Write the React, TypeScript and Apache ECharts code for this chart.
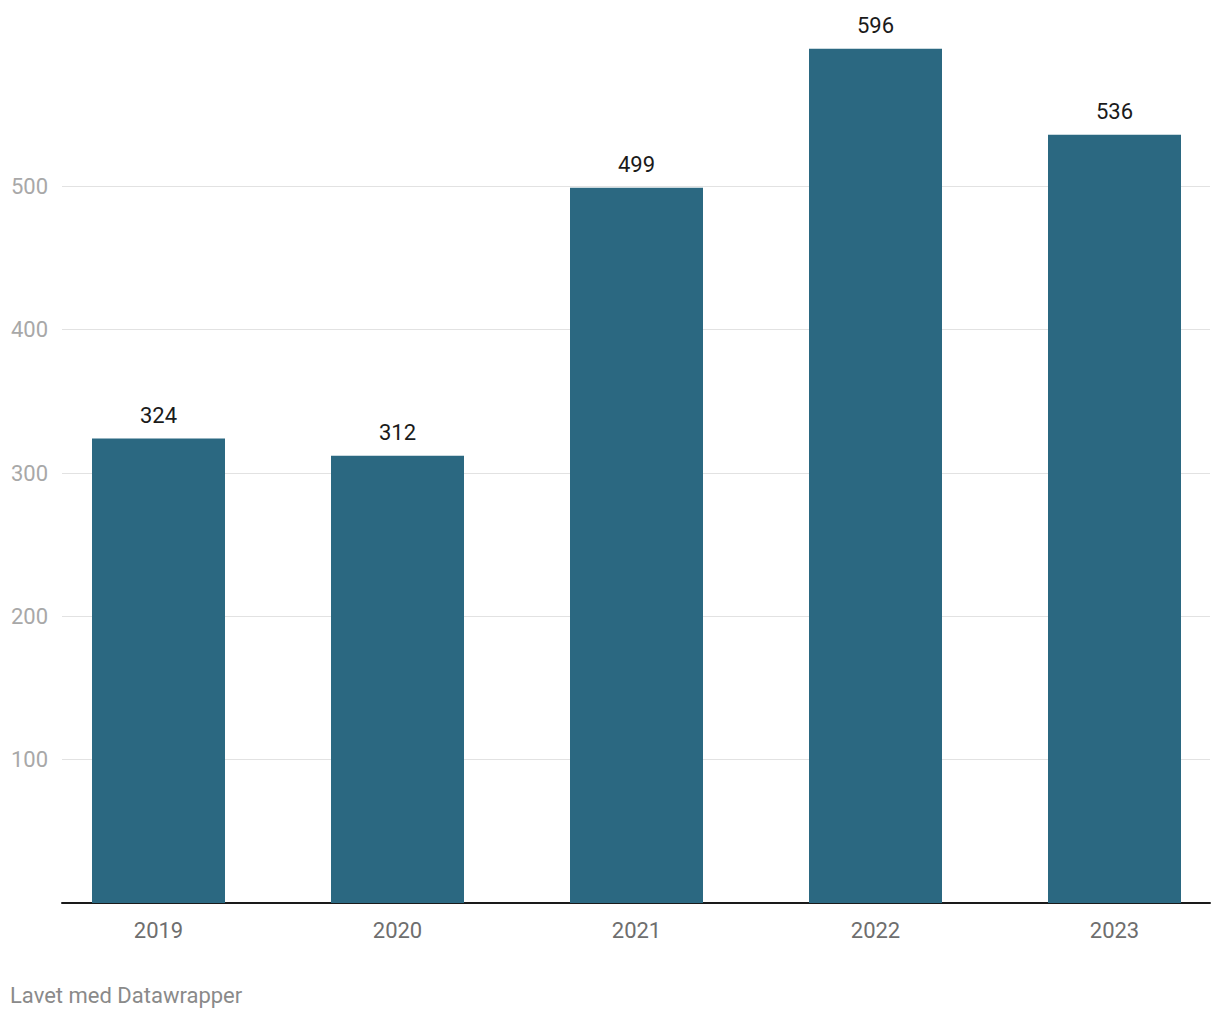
import React, { useEffect, useRef } from "react";
import * as echarts from "echarts";

const years = ["2019", "2020", "2021", "2022", "2023"];
const values = [324, 312, 499, 596, 536];
const footerText = "Lavet med Datawrapper";

export default function App() {
  const ref = useRef<HTMLDivElement>(null);
  useEffect(() => {
    if (!ref.current) return;
    const chart = echarts.init(ref.current, null, { renderer: "svg" });
    const font = "Roboto, 'Noto Sans', sans-serif";
    chart.setOption({
      animation: false,
      backgroundColor: "#ffffff",
      grid: [
        { left: 62, width: 1148, top: 43, bottom: 117 },
        { left: 39, width: 1195, top: 43, bottom: 117 },
      ],
      xAxis: [
        {
          gridIndex: 0,
          type: "category",
          data: years,
          axisLine: { show: true, lineStyle: { color: "#1a1a1a", width: 2 } },
          axisTick: { show: false },
          axisLabel: { show: false },
        },
        {
          gridIndex: 1,
          type: "category",
          data: years,
          axisLine: { show: false },
          axisTick: { show: false },
          axisLabel: {
            color: "#6e6e6e",
            fontSize: 22,
            fontFamily: font,
            margin: 16,
          },
        },
      ],
      yAxis: [
        {
          gridIndex: 0,
          type: "value",
          min: 0,
          max: 600,
          interval: 100,
          axisLine: { show: false },
          axisTick: { show: false },
          splitLine: {
            show: true,
            showMaxLine: false,
            lineStyle: { color: "#e2e2e2", width: 1 },
          },
          axisLabel: {
            color: "#a8a8a8",
            fontSize: 22,
            fontFamily: font,
            align: "left",
            margin: 51,
            showMaxLabel: false,
            formatter: (v: number) => (v === 0 ? "" : String(v)),
          },
        },
        {
          gridIndex: 1,
          type: "value",
          min: 0,
          max: 600,
          interval: 100,
          show: false,
          splitLine: { show: false },
        },
      ],
      series: [
        {
          type: "bar",
          xAxisIndex: 1,
          yAxisIndex: 1,
          data: values,
          barWidth: 133,
          itemStyle: { color: "#2b6881" },
          label: {
            show: true,
            position: "top",
            distance: 12,
            color: "#1a1a1a",
            fontSize: 22,
            fontFamily: font,
          },
        },
      ],
      graphic: [
        {
          type: "text",
          left: 10,
          top: 984,
          style: {
            text: footerText,
            fill: "#8a8a8a",
            fontSize: 22,
            fontFamily: font,
          },
        },
      ],
    });
    return () => chart.dispose();
  }, []);
  return (
    <div
      style={{
        position: "absolute",
        left: 0,
        top: 0,
        width: 1220,
        height: 1020,
        overflow: "hidden",
        background: "#ffffff",
      }}
    >
      <div ref={ref} style={{ width: 1260, height: 1020 }} />
    </div>
  );
}
